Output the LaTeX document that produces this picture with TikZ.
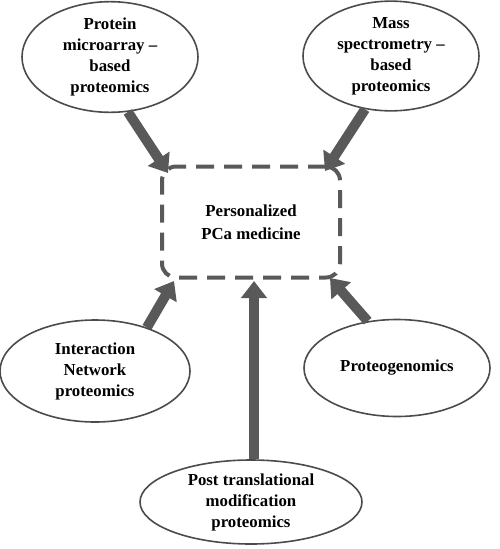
\documentclass[tikz,border=0pt]{standalone}
\usepackage{fontspec}
\setmainfont{Liberation Serif}
\usetikzlibrary{arrows.meta,shapes.geometric}
\definecolor{arrowgray}{RGB}{89,89,89}
\definecolor{rimgray}{RGB}{75,75,75}

\begin{document}
\begin{tikzpicture}[x=1pt,y=-1pt,
    field/.style={ellipse,draw=rimgray,line width=1.6pt,inner sep=0pt,align=center,
      font=\fontsize{16.8}{21}\selectfont\bfseries},
    goal/.style={draw=arrowgray,line width=4pt,dash pattern=on 18pt off 10pt,rounded corners=14pt,
      minimum width=178pt,minimum height=111pt,align=center,
      font=\fontsize{16.8}{23}\selectfont\bfseries},
    feed/.style={draw=arrowgray,line width=10pt,-{Triangle[width=25pt,length=17pt]}}]
  \useasboundingbox (0,0) rectangle (500,549);

  \node[goal] (pca) at (251,222) {Personalized\\PCa medicine};

  \node[field,minimum width=176pt,minimum height=104pt] (micro) at (110,57) {Protein\\microarray –\\based\\proteomics};
  \node[field,minimum width=176pt,minimum height=102pt] (mass) at (391,56) {Mass\\spectrometry –\\based\\proteomics};
  \node[field,minimum width=190pt,minimum height=102pt] (inter) at (95,371) {Interaction\\Network\\proteomics};
  \node[field,minimum width=186pt,minimum height=97pt] (genom) at (397,368) {Proteogenomics};
  \node[field,minimum width=222pt,minimum height=84pt] (ptm) at (251,502) {Post translational\\modification\\proteomics};

  \coordinate (tipA) at (168,173);
  \coordinate (tipB) at (325,171);
  \coordinate (tipC) at (174,281);
  \coordinate (tipD) at (330,278);
  \coordinate (tipE) at (254,281);

  \draw[feed] (micro.-72) -- (tipA);
  \draw[feed] (mass.-116) -- (tipB);
  \draw[feed] (inter.40) -- (tipC);
  \draw[feed] (genom.122) -- (tipD);
  \draw[feed] (ptm.north -| tipE) -- (tipE);
\end{tikzpicture}
\end{document}
